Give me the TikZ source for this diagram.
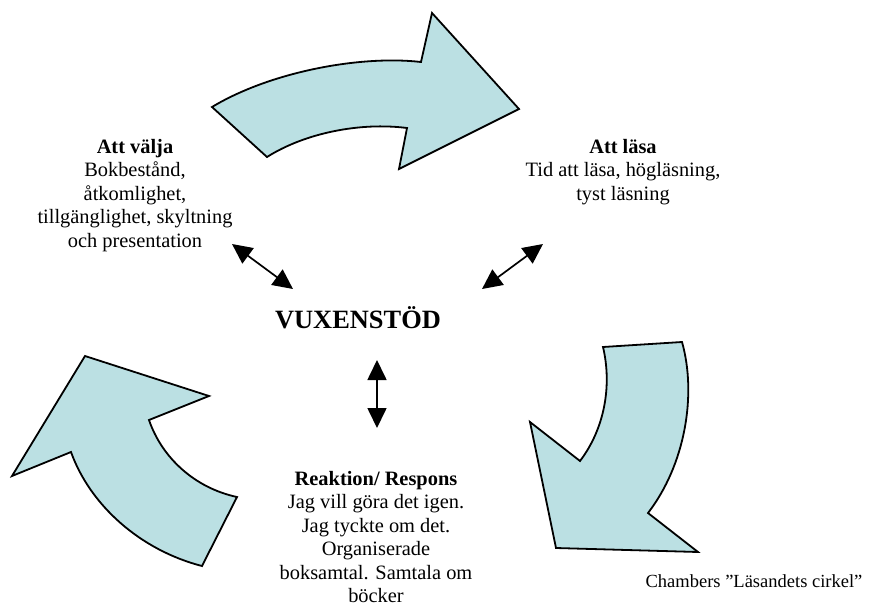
\documentclass[tikz,border=0pt]{standalone}
\usepackage{fontspec}
\setmainfont{Liberation Serif}
\usetikzlibrary{arrows.meta}
\definecolor{arrowfill}{RGB}{187,224,227}
\tikzset{
  blockarrow/.style={draw=black, line width=1.8pt, fill=arrowfill, line join=miter},
  dblarrow/.style={line width=1.7pt, {Triangle[length=20pt,width=19pt]}-{Triangle[length=20pt,width=19pt]}},
  label/.style={inner sep=0pt, anchor=base, font=\fontsize{20.4}{23.5}\selectfont},
}
\newcommand{\ctab}[1]{\begin{tabular}[t]{@{}c@{}}#1\end{tabular}}
\begin{document}
\begin{tikzpicture}[x=1pt,y=-1pt]
\useasboundingbox (0,0) rectangle (870,608);
% top block arrow
\draw[blockarrow] (212,107) .. controls (270,72) and (360,55) .. (421,62)
  -- (432,13) -- (519,109) -- (399,169) -- (407,128)
  .. controls (360,122) and (305,133) .. (267,157) -- cycle;
% right block arrow
\draw[blockarrow] (682,342) .. controls (697,395) and (685,465) .. (648,513)
  -- (698,552) -- (556,548) -- (530,422) -- (580,461)
  .. controls (605,428) and (612,385) .. (603,347) -- cycle;
% left block arrow
\draw[blockarrow] (85,356) -- (209,396) -- (149,420)
  .. controls (162,458) and (195,488) .. (237,497) -- (202,566)
  .. controls (140,550) and (90,505) .. (71,452) -- (12,476) -- cycle;
% texts
\node[label] (valja) at (135,153) {\ctab{\textbf{Att välja}\\Bokbestånd,\\åtkomlighet,\\tillgänglighet, skyltning\\och presentation}};
\node[label] (lasa) at (623,153) {\ctab{\textbf{Att läsa}\\Tid att läsa, högläsning,\\tyst läsning}};
\node[label, font=\fontsize{26.4}{30}\selectfont\bfseries] (vuxen) at (358,328) {VUXENSTÖD};
\node[label] (reaktion) at (376,485) {\ctab{\textbf{Reaktion/ Respons}\\Jag vill göra det igen.\\Jag tyckte om det.\\Organiserade\\boksamtal. Samtala om\\böcker}};
\node[label, font=\fontsize{18.5}{21}\selectfont] (chambers) at (754,587) {Chambers ”Läsandets cirkel”};
% double arrows
\coordinate (l1) at (232,244);
\coordinate (l2) at (293,289);
\coordinate (r1) at (543,244);
\coordinate (r2) at (482,289);
\coordinate (v1) at (377,360);
\coordinate (v2) at (377,428);
\draw[dblarrow] (l1) -- (l2);
\draw[dblarrow] (r1) -- (r2);
\draw[dblarrow] (v1) -- (v2);
\end{tikzpicture}
\end{document}
